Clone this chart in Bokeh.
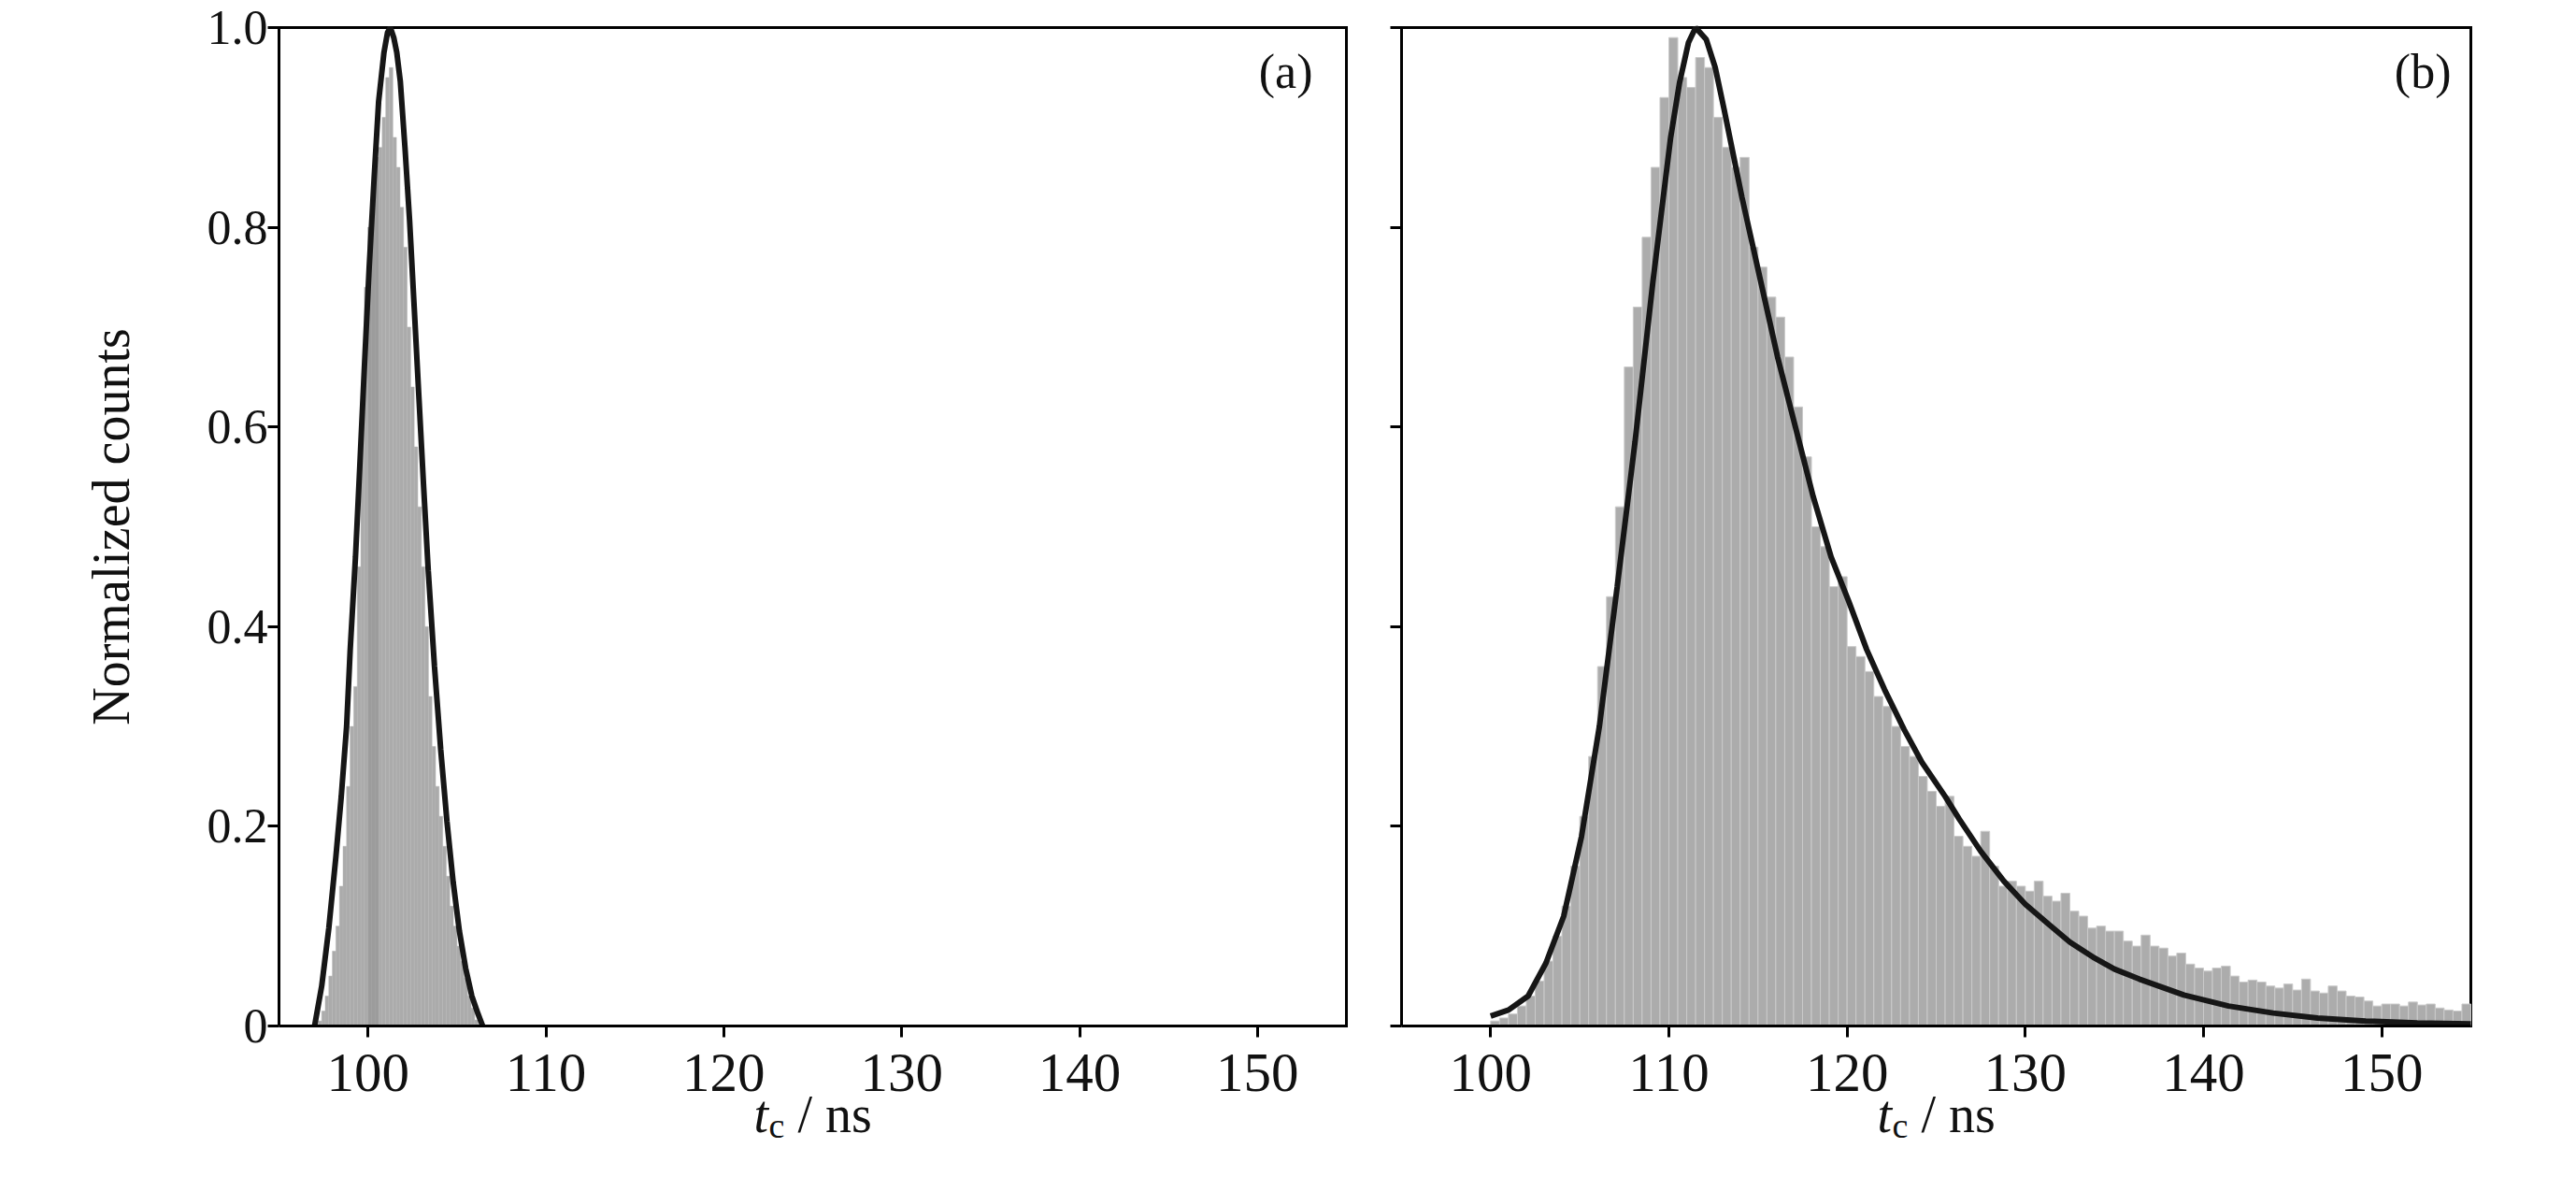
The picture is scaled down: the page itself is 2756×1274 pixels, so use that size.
import math
from bokeh.plotting import figure
from bokeh.layouts import row
from bokeh.models import FixedTicker, CustomJSTickFormatter, Label, Range1d
from bokeh.core.properties import value
from bokeh.embed import file_html
from bokeh.resources import INLINE

FONT = "Liberation Serif"

# ---------------- data ----------------
x_ticks = [100, 110, 120, 130, 140, 150]
y_ticks = [0, 0.2, 0.4, 0.6, 0.8, 1.0]
y_label = "Normalized counts"
x_label_parts = ["t", "c", "/ ns"]
panel_names = ["(a)", "(b)"]

# panel (a): histogram (0.2 ns bins)
a_bin_width = 0.2
a_bin_centers = [97.3, 97.5, 97.7, 97.9, 98.1, 98.3, 98.5, 98.7, 98.9, 99.1,
                 99.3, 99.5, 99.7, 99.9, 100.1, 100.3, 100.5, 100.7, 100.9, 101.1,
                 101.3, 101.5, 101.7, 101.9, 102.1, 102.3, 102.5, 102.7, 102.9, 103.1,
                 103.3, 103.5, 103.7, 103.9, 104.1, 104.3, 104.5, 104.7, 104.9, 105.1,
                 105.3, 105.5, 105.7, 105.9, 106.1]
a_counts = [0.005, 0.015, 0.03, 0.05, 0.075, 0.10, 0.14, 0.18, 0.24, 0.30,
            0.34, 0.46, 0.60, 0.74, 0.80, 0.84, 0.87, 0.88, 0.91, 0.95,
            0.96, 0.89, 0.86, 0.82, 0.78, 0.70, 0.64, 0.58, 0.52, 0.46,
            0.40, 0.33, 0.28, 0.24, 0.21, 0.18, 0.15, 0.12, 0.10, 0.08,
            0.065, 0.048, 0.03, 0.018, 0.006]
a_band_centers = [100.1, 100.3, 100.5]
a_band_counts = [0.80, 0.84, 0.87]

# panel (a): fitted curve
a_fit_t = [97.0, 97.4, 97.8, 98.2, 98.5, 98.8, 99.0, 99.3, 99.54, 99.8,
           100.07, 100.35, 100.6, 100.9, 101.1, 101.26, 101.45, 101.62, 101.82, 102.08,
           102.34, 102.6, 102.87, 103.13, 103.39, 103.74, 104.09, 104.44, 104.79, 105.14,
           105.49, 105.84, 106.19, 106.45]
a_fit_y = [0.0, 0.04, 0.098, 0.17, 0.23, 0.30, 0.376, 0.47, 0.56, 0.66,
           0.76, 0.85, 0.926, 0.975, 0.995, 1.0, 0.99, 0.975, 0.946, 0.88,
           0.807, 0.72, 0.628, 0.54, 0.456, 0.36, 0.277, 0.205, 0.144, 0.095,
           0.058, 0.03, 0.012, 0.0]

# panel (b): histogram (0.5 ns bins, centres 100.25 ... 154.75)
b_bin_width = 0.5
b_bin_start = 100.25
b_counts = [0.005, 0.008, 0.012, 0.02, 0.03, 0.045, 0.065, 0.09, 0.12, 0.16,
            0.21, 0.27, 0.36, 0.43, 0.52, 0.66, 0.72, 0.79, 0.86, 0.93,
            0.99, 0.95, 0.94, 0.97, 0.96, 0.91, 0.88, 0.86, 0.87, 0.78,
            0.76, 0.73, 0.71, 0.67, 0.62, 0.57, 0.50, 0.48, 0.44, 0.45,
            0.38, 0.37, 0.355, 0.33, 0.32, 0.30, 0.28, 0.27, 0.25, 0.235,
            0.22, 0.23, 0.19, 0.18, 0.17, 0.195, 0.16, 0.14, 0.145, 0.14,
            0.135, 0.145, 0.13, 0.125, 0.133, 0.115, 0.11, 0.098, 0.10, 0.095,
            0.095, 0.085, 0.08, 0.091, 0.08, 0.078, 0.07, 0.073, 0.062, 0.058,
            0.055, 0.058, 0.06, 0.05, 0.044, 0.046, 0.044, 0.04, 0.038, 0.042,
            0.036, 0.047, 0.035, 0.033, 0.04, 0.035, 0.03, 0.029, 0.025, 0.02,
            0.022, 0.022, 0.02, 0.024, 0.021, 0.022, 0.018, 0.016, 0.015, 0.022]
b_bin_centers = [b_bin_start + i * b_bin_width for i in range(len(b_counts))]

# panel (b): fitted curve
b_fit_t = [100.0, 101.0, 102.1, 103.1, 104.1, 105.1, 106.1, 107.1, 108.1, 109.1,
           110.1, 110.6, 111.1, 111.5, 112.1, 112.6, 113.1, 114.1, 115.1, 116.1,
           117.1, 118.1, 119.1, 120.1, 121.1, 122.1, 123.2, 124.2, 125.5, 126.3,
           127.5, 128.8, 130.0, 131.3, 132.5, 133.8, 135.0, 136.4, 138.9, 141.4,
           143.9, 146.4, 149.1, 152.0, 155.0]
b_fit_y = [0.01, 0.016, 0.03, 0.063, 0.11, 0.19, 0.30, 0.44, 0.585, 0.745,
           0.89, 0.945, 0.985, 1.0, 0.988, 0.96, 0.918, 0.83, 0.75, 0.67,
           0.60, 0.53, 0.47, 0.425, 0.377, 0.337, 0.297, 0.264, 0.23, 0.207,
           0.175, 0.145, 0.122, 0.102, 0.084, 0.069, 0.057, 0.047, 0.031, 0.020,
           0.013, 0.008, 0.005, 0.003, 0.002]

X_MIN, X_MAX = 95, 155
Y_MIN, Y_MAX = 0, 1.0

# ---------------- layout constants (pixels) ----------------
FIG_H = 1274
TOP = 29              # pixel row of y = 1.0
AXIS_Y = 1097         # pixel row of y = 0
RIGHT = 30
PLOT_H = AXIS_Y - TOP
PX_PER_Y = PLOT_H / (Y_MAX - Y_MIN)
# the whole canvas is the frame; ranges are extended beyond the data box
Y_LOW = Y_MIN - (FIG_H - AXIS_Y) / PX_PER_Y
Y_HIGH = Y_MAX + TOP / PX_PER_Y


def panel(border_left, frame_w, show_ylabels, name, name_dx):
    width = border_left + frame_w + RIGHT
    px_per_x = frame_w / (X_MAX - X_MIN)
    x_low = X_MIN - border_left / px_per_x
    x_high = X_MAX + RIGHT / px_per_x
    p = figure(width=width, height=FIG_H, output_backend="svg", toolbar_location=None,
               x_range=Range1d(x_low, x_high), y_range=Range1d(Y_LOW, Y_HIGH),
               min_border_left=0, min_border_right=0,
               min_border_top=0, min_border_bottom=0)
    p.background_fill_color = "white"
    p.border_fill_color = "white"
    p.grid.visible = False
    p.outline_line_color = None

    xa, ya = p.xaxis[0], p.yaxis[0]
    xa.fixed_location = Y_MIN
    ya.fixed_location = X_MIN
    xa.bounds = (X_MIN, X_MAX)
    ya.bounds = (Y_MIN, Y_MAX)
    for ax in (xa, ya):
        ax.axis_line_color = "black"
        ax.axis_line_width = 3
        ax.major_tick_line_color = "black"
        ax.major_tick_line_width = 3
        ax.major_tick_out = 12
        ax.major_tick_in = 0
        ax.minor_tick_line_color = None
        ax.major_label_text_font = FONT
        ax.major_label_text_color = "#111111"
    xa.ticker = FixedTicker(ticks=x_ticks)
    ya.ticker = FixedTicker(ticks=y_ticks)
    xa.major_label_text_font_size = "59px"
    xa.major_label_standoff = 18
    if show_ylabels:
        ya.formatter = CustomJSTickFormatter(
            code="return tick == 0 ? '0' : tick.toFixed(1);")
        ya.major_label_text_font_size = "52px"
        ya.major_label_standoff = 0
        p.text(x=[X_MIN], y=[(Y_MIN + Y_MAX) / 2.0], text=[y_label],
               x_offset=-(border_left - 118), angle=math.pi / 2,
               text_font=value(FONT), text_font_size=value("56px"),
               text_color="#111111", text_align="center", text_baseline="middle")
    else:
        ya.formatter = CustomJSTickFormatter(code="return '';")
        ya.major_label_standoff = 0
        ya.major_label_text_font_size = "1px"

    # top and right sides of the box (bottom/left are the axes)
    p.segment(x0=[X_MIN, X_MAX], y0=[Y_MAX, Y_MIN], x1=[X_MAX, X_MAX], y1=[Y_MAX, Y_MAX],
              line_color="black", line_width=3, line_cap="square")

    # panel tag
    p.add_layout(Label(x=X_MAX, y=Y_MAX, x_offset=-name_dx, y_offset=-18, text=name,
                       text_font=FONT, text_font_size="52px", text_color="#111111",
                       text_align="right", text_baseline="top"))

    # x-axis title: italic t, subscript c, "/ ns"
    xc = (X_MIN + X_MAX) / 2.0
    p.text(x=[xc], y=[Y_MIN], text=[x_label_parts[0]], x_offset=-63, y_offset=94,
           text_font=value(FONT), text_font_size=value("56px"), text_font_style="italic",
           text_color="#111111", text_baseline="alphabetic", text_align="left")
    p.text(x=[xc], y=[Y_MIN], text=[x_label_parts[1]], x_offset=-47, y_offset=106,
           text_font=value(FONT), text_font_size=value("38px"),
           text_color="#111111", text_baseline="alphabetic", text_align="left")
    p.text(x=[xc], y=[Y_MIN], text=[x_label_parts[2]], x_offset=-16, y_offset=94,
           text_font=value(FONT), text_font_size=value("56px"),
           text_color="#111111", text_baseline="alphabetic", text_align="left")
    return p


# ---- panel (a) ----
pa = panel(298, 1142, True, panel_names[0], 36)
pa.vbar(x=a_bin_centers, top=a_counts, width=a_bin_width, bottom=0,
        fill_color="#ababab", line_color="#b4b4b4", line_width=0.5)
pa.vbar(x=a_band_centers, top=a_band_counts, width=a_bin_width, bottom=0,
        fill_color="#9c9c9c", line_color=None)
pa.line(a_fit_t, a_fit_y, line_color="#161616", line_width=6)

# ---- panel (b) ----
pb = panel(29, 1144, False, panel_names[1], 21)
pb.vbar(x=b_bin_centers, top=b_counts, width=b_bin_width, bottom=0,
        fill_color="#acacac", line_color="#cacaca", line_width=1)
pb.line(b_fit_t, b_fit_y, line_color="#161616", line_width=6)

layout = row(pa, pb)
open("out.html", "w").write(file_html(layout, INLINE))
